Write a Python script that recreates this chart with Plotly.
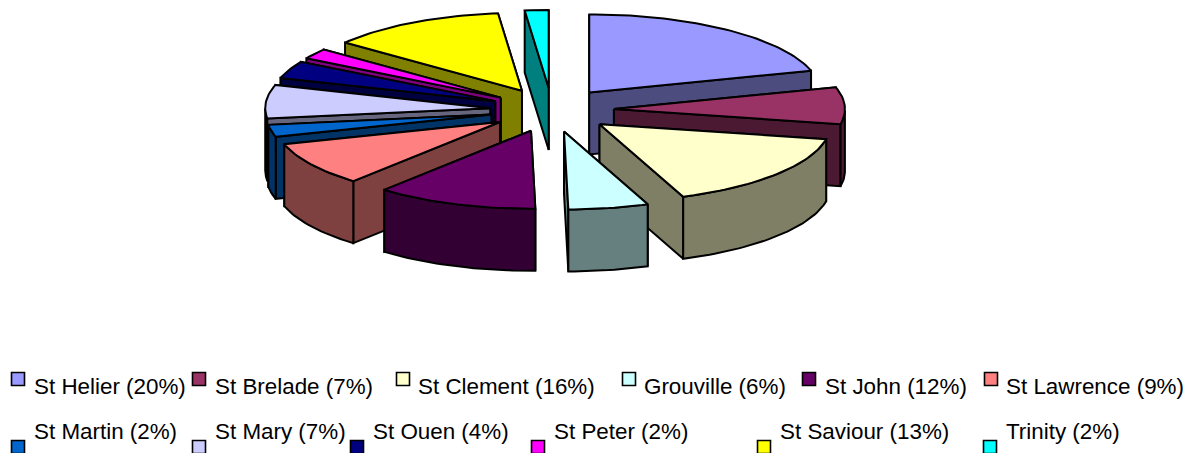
import math
import plotly.graph_objects as go

names = ["St Helier", "St Brelade", "St Clement", "Grouville", "St John", "St Lawrence",
         "St Martin", "St Mary", "St Ouen", "St Peter", "St Saviour", "Trinity"]
labels_pct = [20, 7, 16, 6, 12, 9, 2, 7, 4, 2, 13, 2]
# Shares as drawn in the picture (percent)
shares = [20.5, 7.6, 16.0, 5.6, 11.6, 9.1, 2.5, 6.9, 3.6, 2.2, 12.7, 1.7]
colors = ["#9999FF", "#993366", "#FFFFCC", "#CCFFFF", "#660066", "#FF8080",
          "#0066CC", "#CCCCFF", "#000080", "#FF00FF", "#FFFF00", "#00FFFF"]
walls = ["#4C4C7F", "#4C1933", "#7F7F66", "#667F7F", "#330033", "#7F4040",
         "#003366", "#66667F", "#000040", "#7F007F", "#7F7F00", "#007F7F"]
draw_order = [11, 10, 0, 9, 8, 7, 1, 6, 2, 5, 3, 4]

legend_sq_x = [18, 199, 403, 629, 809, 991, 18, 199, 357, 538, 764, 990]
legend_txt_x = [32, 213, 416, 642, 823, 1004, 32, 213, 371, 552, 778, 1004]
legend_sq_y = [379, 379, 379, 379, 379, 379, 447, 447, 447, 447, 447, 447]
legend_txt_y = [386, 386, 386, 386, 386, 386, 431, 431, 431, 431, 431, 431]

CX, CY, RX_R, RX_L, RY, EX, EY, H = 552, 110, 231, 225, 78, 62, 22, 62
LW = 2

fig = go.Figure()


def poly(xs, ys, fill):
    fig.add_trace(go.Scatter(x=xs + xs[:1], y=ys + ys[:1], mode="lines", fill="toself",
                             fillcolor=fill, line=dict(color="black", width=LW),
                             hoverinfo="skip", showlegend=False))


total = sum(shares)
starts = []
acc = 0
for s in shares:
    starts.append(acc)
    acc += s

for i in draw_order:
    a0 = starts[i] / total * 2 * math.pi
    a1 = (starts[i] + shares[i]) / total * 2 * math.pi
    mid = (a0 + a1) / 2
    ax = CX + EX * math.sin(mid)
    ay = CY - EY * math.cos(mid)
    n = max(4, int((a1 - a0) * 40))
    angs = [a0 + (a1 - a0) * k / n for k in range(n + 1)]
    px = [ax + (RX_R if math.sin(t) >= 0 else RX_L) * math.sin(t) for t in angs]
    py = [ay - RY * math.cos(t) for t in angs]

    faces = []
    for ex, ey in ((px[0], py[0]), (px[-1], py[-1])):
        faces.append(((ay + ey) / 2, [ax, ex, ex, ax], [ay, ey, ey + H, ay + H]))
    front = [k for k, t in enumerate(angs) if math.cos(t) <= 0]
    if len(front) > 1:
        fx = [px[k] for k in front]
        fy = [py[k] for k in front]
        faces.append((max(fy), fx + fx[::-1], fy + [y + H for y in fy[::-1]]))
    for _, xs, ys in sorted(faces, key=lambda f: f[0]):
        poly(xs, ys, walls[i])
    poly([ax] + px, [ay] + py, colors[i])

fig.add_trace(go.Scatter(x=legend_sq_x, y=legend_sq_y, mode="markers",
                         marker=dict(symbol="square", size=13, color=colors,
                                     line=dict(color="black", width=1.6)),
                         hoverinfo="skip", showlegend=False))

annotations = [dict(x=x, y=y, xref="x", yref="y", xanchor="left", yanchor="middle",
                    text=f"{n} ({p}%)", showarrow=False,
                    font=dict(family="Liberation Sans", size=22.4, color="black"))
               for n, p, x, y in zip(names, labels_pct, legend_txt_x, legend_txt_y)]

fig.update_layout(width=1196, height=453, margin=dict(l=0, r=0, t=0, b=0),
                  paper_bgcolor="white", plot_bgcolor="white", annotations=annotations,
                  xaxis=dict(range=[0, 1196], visible=False, fixedrange=True),
                  yaxis=dict(range=[453, 0], visible=False, fixedrange=True))
fig.write_html("out.html", config=dict(displayModeBar=False),
               post_script="document.body.style.margin='0';document.body.style.overflow='hidden';")
